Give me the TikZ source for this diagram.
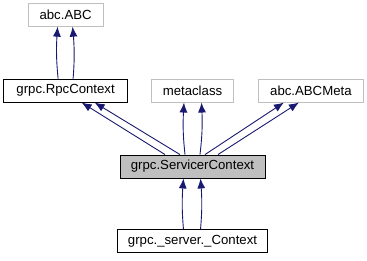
\documentclass[tikz,border=0pt]{standalone}
\usepackage{fontspec}
\setmainfont{Liberation Sans}
\usepackage{tikz}
\usetikzlibrary{positioning, arrows.meta, bending}

\definecolor{edgeblue}{HTML}{191970}
\definecolor{extgray}{HTML}{BFBFBF}
\tikzset{
  cls/.style={draw=black, line width=0.9pt, minimum height=23pt, inner sep=0pt,
    font=\fontsize{13.2}{15}\selectfont},
  extcls/.style={cls, draw=extgray},
  curcls/.style={cls, fill=extgray},
  inherit/.style={edgeblue, line width=0.9pt, -{Latex[length=10pt,width=8pt]}},
}

\begin{document}
\begin{tikzpicture}[x=1pt, y=-1pt]
            \useasboundingbox (0,0) rectangle (367,261);
            \node[curcls, minimum width=145pt] (servicer) at (192.5,166.5) {grpc.ServicerContext};
            \node[extcls, minimum width=82pt, above=52pt of servicer] (meta) {metaclass};
            \node[cls, minimum width=124pt, left=23pt of meta] (rpc) {grpc.RpcContext};
            \node[extcls, minimum width=105pt, right=24pt of meta] (abcmeta) {abc.ABCMeta};
            \node[extcls, minimum width=75pt, above=52pt of rpc] (abc) {abc.ABC};
            \node[cls, minimum width=150pt, below=51pt of servicer] (server) {grpc.\_server.\_Context};
            \draw[inherit] ([xshift=-7.5pt]rpc.north) to[bend left=5] ([xshift=-8pt]abc.south);
            \draw[inherit] ([xshift=7.5pt]rpc.north) to[bend right=5] ([xshift=7pt]abc.south);
            \foreach \a/\b in {-27.5/16, -12.5/29}
                \draw[inherit] ([xshift=\a pt]servicer.north) -- ([xshift=\b pt]rpc.south);
            \draw[inherit] ([xshift=-7.5pt]servicer.north) to[bend left=5] ([xshift=-8.5pt]meta.south);
            \draw[inherit] ([xshift=7.5pt]servicer.north) to[bend right=5] ([xshift=9pt]meta.south);
            \foreach \a/\b in {12.5/-27, 25.5/-12}
                \draw[inherit] ([xshift=\a pt]servicer.north) -- ([xshift=\b pt]abcmeta.south);
            \draw[inherit] ([xshift=-9pt]server.north) to[bend left=5] ([xshift=-9pt]servicer.south);
            \draw[inherit] ([xshift=8pt]server.north) to[bend right=5] ([xshift=8pt]servicer.south);
        \end{tikzpicture}
\end{document}
